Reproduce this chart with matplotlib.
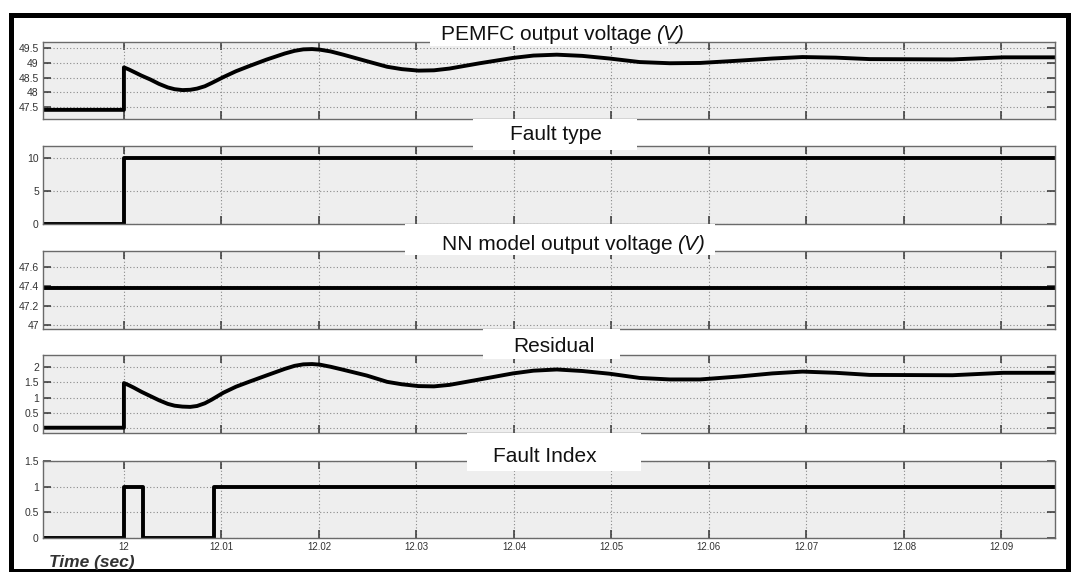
import matplotlib
matplotlib.use('Agg')
import matplotlib.pyplot as plt
from matplotlib.patches import Rectangle
from matplotlib.ticker import FuncFormatter

plt.rcParams['font.family'] = ['Liberation Sans', 'DejaVu Sans']

# data
t_start = 11.9917
t_end = 12.0955

t_curve = [11.9917, 12.0, 12.0, 12.0005, 12.001, 12.0018, 12.0027, 12.0036, 12.0045,
           12.0052, 12.006, 12.0068, 12.0075, 12.0083, 12.009, 12.0102, 12.0115,
           12.0129, 12.0146, 12.0165, 12.0175, 12.0184, 12.0193, 12.0201, 12.0212,
           12.0225, 12.0249, 12.027, 12.0285, 12.0302, 12.0318, 12.0334, 12.0365,
           12.0399, 12.042, 12.0444, 12.047, 12.0498, 12.0529, 12.056, 12.0591,
           12.0632, 12.0665, 12.0696, 12.073, 12.0765, 12.085, 12.0902, 12.0955]
pemfc_v = [47.41, 47.41, 48.85, 48.78, 48.70, 48.57, 48.44, 48.29, 48.17,
           48.11, 48.08, 48.09, 48.13, 48.21, 48.32, 48.52, 48.72,
           48.90, 49.11, 49.32, 49.41, 49.46, 49.47, 49.45, 49.39,
           49.28, 49.06, 48.87, 48.79, 48.74, 48.75, 48.81, 48.99,
           49.17, 49.25, 49.28, 49.24, 49.15, 49.03, 48.99, 49.00,
           49.08, 49.15, 49.20, 49.18, 49.13, 49.12, 49.19, 49.19]
residual = [0.0, 0.0, 1.48, 1.41, 1.33, 1.19, 1.05, 0.91, 0.79,
            0.73, 0.70, 0.69, 0.72, 0.81, 0.93, 1.16, 1.36,
            1.53, 1.73, 1.95, 2.05, 2.10, 2.11, 2.09, 2.02,
            1.92, 1.73, 1.52, 1.44, 1.38, 1.37, 1.42, 1.60,
            1.80, 1.89, 1.93, 1.88, 1.79, 1.65, 1.60, 1.60,
            1.70, 1.80, 1.86, 1.82, 1.75, 1.74, 1.82, 1.82]

t_fault_type = [11.9917, 12.0, 12.0955]
fault_type = [0, 10, 10]

t_nn = [11.9917, 12.0955]
nn_v = [47.38, 47.38]

t_index = [11.9917, 12.0, 12.002, 12.0092, 12.0955]
fault_index = [0, 1, 0, 1, 1]

x_ticks = [12.0, 12.01, 12.02, 12.03, 12.04, 12.05, 12.06, 12.07, 12.08, 12.09]
x_labels = ['12', '12.01', '12.02', '12.03', '12.04', '12.05', '12.06', '12.07', '12.08', '12.09']

titles = ['PEMFC output voltage', 'Fault type', 'NN model output voltage', 'Residual', 'Fault Index']
title_units = ['(V)', '', '(V)', '', '']
y_ticks = [[47.5, 48, 48.5, 49, 49.5], [0, 5, 10], [47, 47.2, 47.4, 47.6],
           [0, 0.5, 1, 1.5, 2], [0, 0.5, 1, 1.5]]
y_lims = [(47.10, 49.72), (0, 11.8), (46.96, 47.76), (-0.175, 2.41), (0, 1.5)]

W, H = 1071, 572
fig = plt.figure(figsize=(W / 100, H / 100), dpi=100)

# panel extents in pixels (top, bottom)
panel_px = [(41.7, 119), (146, 224), (251, 329), (355, 433), (461, 538)]
ax_left, ax_right = 43, 1055

series = [(t_curve, pemfc_v, 'default'), (t_fault_type, fault_type, 'steps-post'),
          (t_nn, nn_v, 'default'), (t_curve, residual, 'default'),
          (t_index, fault_index, 'steps-post')]

axes = []
for i, (top, bot) in enumerate(panel_px):
    ax = fig.add_axes([ax_left / W, 1 - bot / H, (ax_right - ax_left) / W, (bot - top) / H])
    ax.set_facecolor('#eeeeee')
    t, v, ds = series[i]
    ax.plot(t, v, color='black', lw=2.8, drawstyle=ds, solid_joinstyle='round')
    ax.set_xlim(t_start, t_end)
    ax.set_ylim(*y_lims[i])
    ax.set_yticks(y_ticks[i])
    ax.yaxis.set_major_formatter(FuncFormatter(lambda val, pos: '%g' % val))
    ax.set_xticks(x_ticks)
    if i == 4:
        ax.set_xticklabels(x_labels)
    else:
        ax.set_xticklabels([])
    ax.grid(True, linestyle=(0, (1, 2)), color='#8a8a8a', lw=0.8)
    ax.tick_params(direction='in', length=6, width=1.1, color='#333333',
                   top=True, right=True, labelsize=7.5, labelcolor='#333333', pad=3)
    ax.tick_params(axis='x', labelsize=7, pad=3)
    for s in ax.spines.values():
        s.set_color('#6a6a6a')
        s.set_linewidth(1.0)
    axes.append(ax)

# white title boxes (x0, x1, y0, y1 in pixels) and text centres
boxes = [(430, 668, 22, 46), (473, 637, 119, 150), (405, 715, 224, 255),
         (483, 620, 329, 359), (467, 641, 433, 471)]
text_xy = [(561, 35), (556, 135), (561, 244), (554, 346), (545, 456)]
unit_x = [652, 0, 673, 0, 0]
for i, (x0, x1, y0, y1) in enumerate(boxes):
    fig.add_artist(Rectangle((x0 / W, 1 - y1 / H), (x1 - x0) / W, (y1 - y0) / H,
                             transform=fig.transFigure, facecolor='white',
                             edgecolor='none', zorder=2))
    tx, ty = text_xy[i]
    if title_units[i]:
        fig.text(unit_x[i] / W, 1 - ty / H, titles[i], ha='right', va='center',
                 fontsize=15, color='#111111', zorder=3)
        fig.text((unit_x[i] + 4) / W, 1 - ty / H, title_units[i], ha='left', va='center',
                 fontsize=15, fontstyle='italic', color='#111111', zorder=3)
    else:
        fig.text(tx / W, 1 - ty / H, titles[i], ha='center', va='center',
                 fontsize=15, color='#111111', zorder=3)

fig.text(49 / W, 1 - 562 / H, 'Time (sec)', fontsize=12.5, fontweight='bold',
         fontstyle='italic', color='#333333', ha='left', va='center', zorder=6)

# outer black frame
fig.add_artist(Rectangle((10.5 / W, 1 - 570.5 / H), (1068 - 10.5) / W, (570.5 - 14.5) / H,
                         transform=fig.transFigure, facecolor='none',
                         edgecolor='black', lw=3.6, zorder=5))

fig.savefig('out.png', dpi=100, facecolor='white')
